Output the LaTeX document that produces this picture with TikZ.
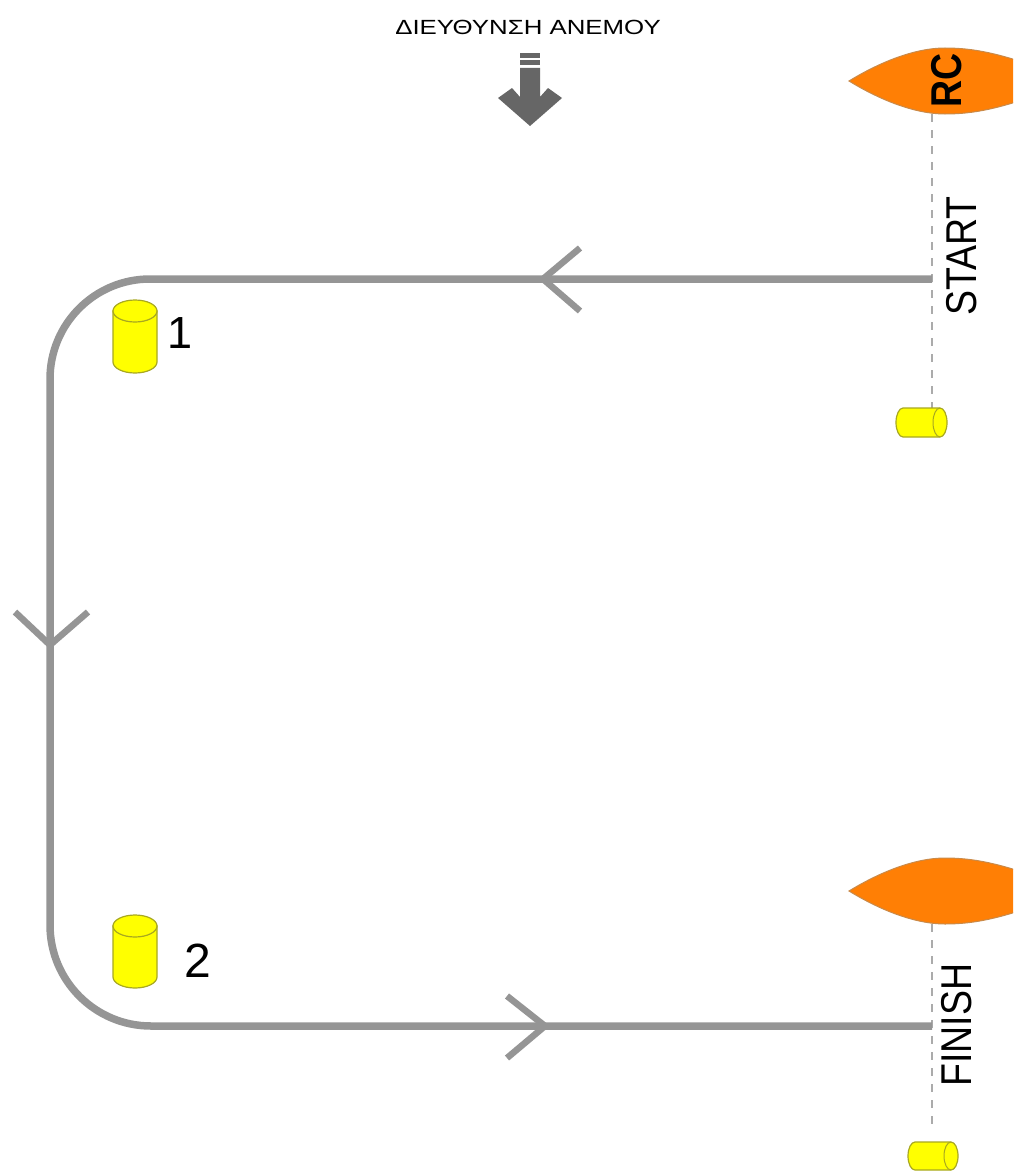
\documentclass[tikz,border=0pt]{standalone}
\usepackage{fontspec}
\usepackage{graphicx}
\setmainfont{Liberation Sans}
\definecolor{course}{HTML}{959595}
\definecolor{windgray}{HTML}{666666}
\definecolor{boatfill}{HTML}{FF7F05}
\definecolor{boatedge}{HTML}{C98A4A}
\definecolor{buoyfill}{HTML}{FFFF00}
\definecolor{buoyedge}{HTML}{A8A820}
\definecolor{dashgray}{HTML}{ABABAB}
\tikzset{
  courseline/.style={draw=course,line width=7.5pt,line cap=butt},
  chevron/.style={draw=course,line width=6.5pt,line join=miter},
  lineup/.style={draw=dashgray,line width=2.5pt,dash pattern=on 8pt off 8pt},
  boat/.style={fill=boatfill,draw=boatedge,line width=1pt},
  buoy/.style={fill=buoyfill,draw=buoyedge,line width=1.2pt},
  windshape/.style={fill=windgray,draw=none},
  lbl/.style={inner sep=0pt,text=black},
}
\newcommand{\vlabel}[1]{\rotatebox{90}{\scalebox{1}[1.15]{\fontsize{37.5}{37.5}\selectfont #1}}}
\begin{document}
\begin{tikzpicture}[x=1pt,y=-1pt]
\useasboundingbox (0,0) rectangle (1013,1172);
\clip (0,0) rectangle (1013,1172);
% wind
\node[lbl] (wind) at (528,27) {\scalebox{1.26}[1]{\fontsize{20.5}{20.5}\selectfont ΔΙΕΥΘΥΝΣΗ ΑΝΕΜΟΥ}};
\fill[windshape] (520,53) rectangle (540,58);
\fill[windshape] (520,60) rectangle (540,65);
\fill[windshape] (520,68) -- (540,68) -- (540,97) -- (548,88) -- (562,98) -- (530,126) -- (498,98) -- (512,88) -- (520,97) -- cycle;
% boats
\path[boat] (849,81) .. controls (880,62) and (915,48) .. (945,48) .. controls (975,48) and (1000,54) .. (1040,68) -- (1040,94) .. controls (1000,108) and (975,114) .. (945,114) .. controls (915,114) and (880,100) .. (849,81) -- cycle;
\path[boat] (849,891) .. controls (880,872) and (915,858) .. (945,858) .. controls (975,858) and (1000,864) .. (1040,878) -- (1040,904) .. controls (1000,918) and (975,924) .. (945,924) .. controls (915,924) and (880,910) .. (849,891) -- cycle;
% anchor points
\coordinate (rcfoot) at (932,114);
\coordinate (startbuoy) at (932,408);
\coordinate (finfoot) at (932,924);
\coordinate (finbuoy) at (932,1125);
\coordinate (startpt) at (932,279);
\coordinate (finishpt) at (932,1026);
% dashed lines
\draw[lineup] (rcfoot) -- (startbuoy);
\draw[lineup] (finfoot) -- (finbuoy);
% course
\draw[courseline] (startpt) -- (150,279) arc[start angle=270,end angle=180,radius=100] -- (50,925) arc[start angle=180,end angle=90,radius=101] -- (finishpt);
\draw[chevron] (580,248) -- (543,279) -- (580,311);
\draw[chevron] (15,612) -- (50,645) -- (88,612);
\draw[chevron] (507,996) -- (545,1026) -- (507,1058);
% vertical cylinders
\path[buoy] (113,311) -- (157,311) -- (157,362) arc[start angle=0,end angle=180,x radius=22,y radius=11] -- cycle;
\path[buoy] (135,311) ellipse[x radius=22,y radius=11];
\path[buoy] (113,926) -- (157,926) -- (157,977) arc[start angle=0,end angle=180,x radius=22,y radius=11] -- cycle;
\path[buoy] (135,926) ellipse[x radius=22,y radius=11];
% horizontal cylinders
\path[buoy] (903,408) -- (940,408) arc[start angle=-90,end angle=90,x radius=7,y radius=14.5] -- (903,437) arc[start angle=90,end angle=270,x radius=7,y radius=14.5] -- cycle;
\draw[buoyedge,line width=1pt] (940,408) arc[start angle=270,end angle=90,x radius=7,y radius=14.5];
\path[buoy] (915,1142) -- (951,1142) arc[start angle=-90,end angle=90,x radius=7,y radius=14] -- (915,1170) arc[start angle=90,end angle=270,x radius=7,y radius=14] -- cycle;
\draw[buoyedge,line width=1pt] (951,1142) arc[start angle=270,end angle=90,x radius=7,y radius=14];
% labels
\node[lbl] (start) at (962,256) {\vlabel{START}};
\node[lbl] (finish) at (957,1025) {\vlabel{FINISH}};
\node[lbl] (rc) at (947,80) {\vlabel{\bfseries RC}};
\node[lbl,font=\fontsize{45}{45}\selectfont] (one) at (180,333) {1};
\node[lbl,font=\fontsize{48}{48}\selectfont] (two) at (198,961) {2};
\end{tikzpicture}
\end{document}
